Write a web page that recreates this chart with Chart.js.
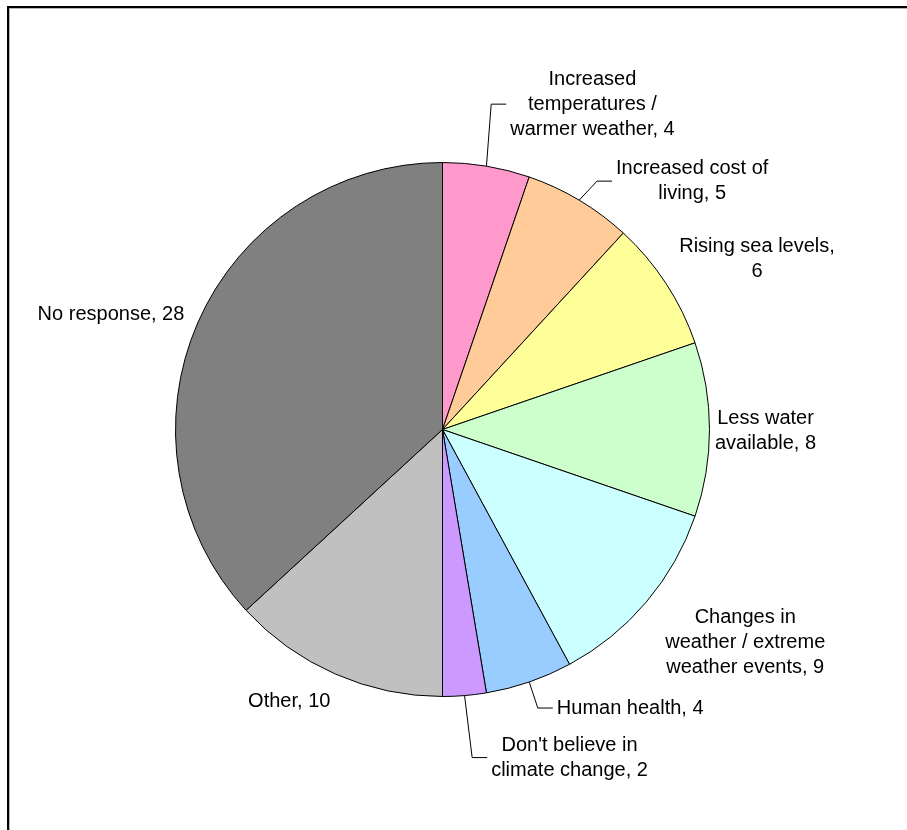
<!DOCTYPE html>
<html>
<head>
<meta charset="utf-8">
<script src="https://cdn.jsdelivr.net/npm/chart.js@4/dist/chart.umd.min.js"></script>
<style>
  html, body { margin: 0; padding: 0; background: #fff; overflow: hidden; width: 907px; height: 830px; }
  #frame { position: absolute; left: 7px; top: 6px; width: 1200px; height: 1200px;
           border-left: 2px solid #000; border-top: 2px solid #000; box-sizing: border-box; }
  #frame2 { position: absolute; left: 9px; top: 8px; width: 1200px; height: 1200px;
           border-left: 1px solid #b8b8b8; border-top: 1px solid #b8b8b8; box-sizing: border-box; }
  #c { position: absolute; left: 0; top: 0; }
</style>
</head>
<body>
<div id="frame"></div>
<div id="frame2"></div>
<canvas id="c" width="907" height="830"></canvas>
<script>
// ---- Data ----
const categories = [
  ["Increased", "temperatures /", "warmer weather, 4"],
  ["Increased cost of", "living, 5"],
  ["Rising sea levels,", "6"],
  ["Less water", "available, 8"],
  ["Changes in", "weather / extreme", "weather events, 9"],
  ["Human health, 4"],
  ["Don't believe in", "climate change, 2"],
  ["Other, 10"],
  ["No response, 28"]
];
const values = [4, 5, 6, 8, 9, 4, 2, 10, 28];
const colors = ["#FF99CC", "#FFCC99", "#FFFF99", "#CCFFCC", "#CCFFFF", "#99CCFF", "#CC99FF", "#C0C0C0", "#808080"];

// ---- Label placement styling (offset of label centre from the arc's outer mid-point) ----
const labelOffsets = [[106, -62], [113, -19], [91, -24], [56, 1], [99, 40], [101, 26], [105, 62], [-46, 27], [-87, -8]];
const hasLeader = [true, true, false, false, false, true, true, false, false];

const FONT = '20px "Liberation Sans", Arial, sans-serif';
const LINE_H = 25;

const labelPlugin = {
  id: 'sliceLabels',
  afterDatasetsDraw(chart) {
    const ctx = chart.ctx;
    const meta = chart.getDatasetMeta(0);
    ctx.save();
    ctx.font = FONT;
    ctx.fillStyle = '#000';
    ctx.textBaseline = 'middle';
    meta.data.forEach((arc, i) => {
      const p = arc.getProps(['x', 'y', 'startAngle', 'endAngle', 'outerRadius'], true);
      const mid = (p.startAngle + p.endAngle) / 2;
      const ax = p.x + Math.cos(mid) * p.outerRadius;
      const ay = p.y + Math.sin(mid) * p.outerRadius;
      const lines = chart.data.labels[i];
      const widths = lines.map(l => ctx.measureText(l).width);
      const maxW = Math.max(...widths);
      const cx = ax + labelOffsets[i][0];
      const cy = ay + labelOffsets[i][1];
      const left = cx - maxW / 2;
      const top = cy - (lines.length - 1) * LINE_H / 2;
      lines.forEach((l, k) => {
        ctx.textAlign = 'center';
        ctx.fillText(l, cx, top + k * LINE_H);
      });
      if (hasLeader[i]) {
        const endX = left - 4;
        const elbowX = endX - 15;
        ctx.beginPath();
        ctx.strokeStyle = '#000';
        ctx.lineWidth = 1;
        ctx.moveTo(ax, ay);
        ctx.lineTo(elbowX, cy);
        ctx.lineTo(endX, cy);
        ctx.stroke();
      }
    });
    ctx.restore();
  }
};

new Chart(document.getElementById('c'), {
  type: 'pie',
  data: {
    labels: categories,
    datasets: [{
      data: values,
      backgroundColor: colors,
      borderColor: '#000',
      borderWidth: 1
    }]
  },
  options: {
    responsive: false,
    devicePixelRatio: 1,
    animation: false,
    layout: { padding: { left: 175, right: 197, top: 162, bottom: 133 } },
    plugins: { legend: { display: false }, tooltip: { enabled: false } }
  },
  plugins: [labelPlugin]
});
</script>
</body>
</html>
